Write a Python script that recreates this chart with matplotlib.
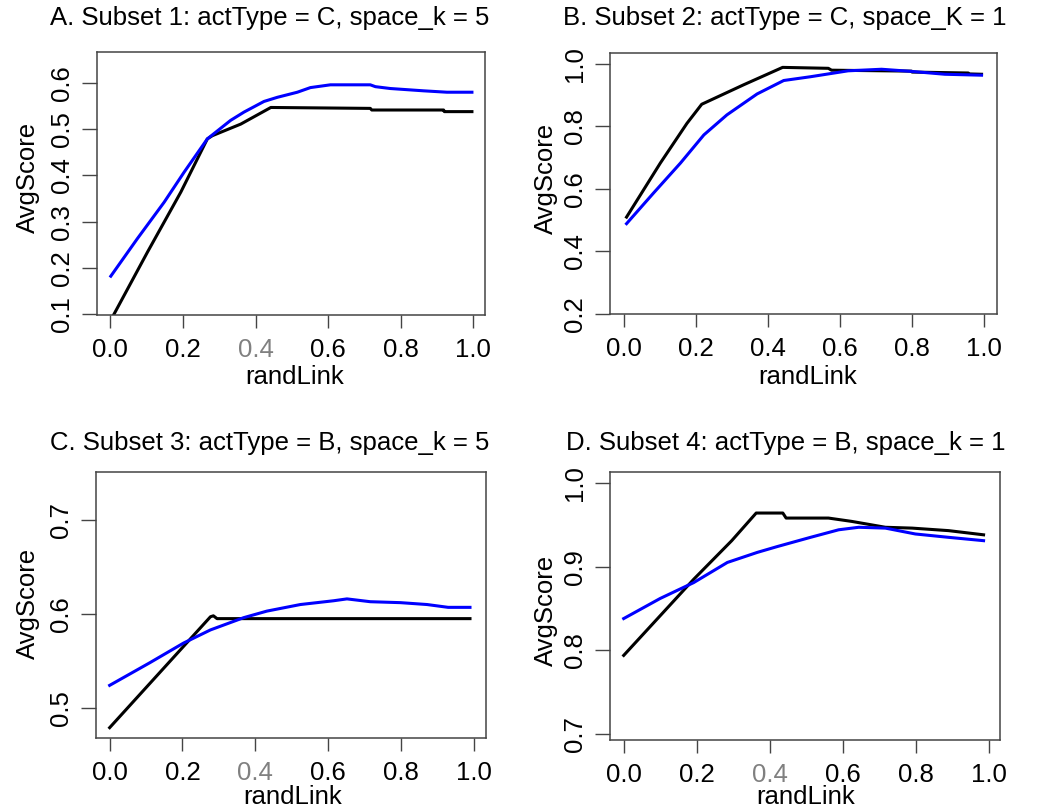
import matplotlib
matplotlib.use("Agg")
import matplotlib.pyplot as plt

plt.rcParams['font.family'] = ['Liberation Sans', 'DejaVu Sans']

W, H = 1038, 808

titles = ["A. Subset 1: actType = C, space_k = 5",
          "B. Subset 2: actType = C, space_K = 1",
          "C. Subset 3: actType = B, space_k = 5",
          "D. Subset 4: actType = B, space_k = 1"]

# panel A
a_black_x = [0.0, 0.01, 0.102, 0.194, 0.267, 0.281, 0.359, 0.442, 0.716, 0.72, 0.918, 0.92, 0.996]
a_black_y = [0.086, 0.100, 0.234, 0.364, 0.479, 0.486, 0.511, 0.547, 0.545, 0.5415, 0.5415, 0.538, 0.538]
a_blue_x = [0.001, 0.074, 0.148, 0.203, 0.267, 0.331, 0.368, 0.423, 0.46, 0.515, 0.551, 0.606,
            0.716, 0.73, 0.771, 0.863, 0.927, 0.996]
a_blue_y = [0.182, 0.263, 0.342, 0.407, 0.479, 0.519, 0.537, 0.560, 0.569, 0.580, 0.590, 0.596,
            0.596, 0.592, 0.588, 0.583, 0.580, 0.580]

# panel B
b_black_x = [0.006, 0.10, 0.174, 0.215, 0.331, 0.44, 0.567, 0.576, 0.798, 0.80, 0.956, 0.96, 0.993]
b_black_y = [0.509, 0.682, 0.809, 0.870, 0.932, 0.988, 0.985, 0.979, 0.976, 0.973, 0.970, 0.967, 0.966]
b_blue_x = [0.006, 0.081, 0.156, 0.221, 0.285, 0.369, 0.443, 0.517, 0.622, 0.715, 0.80, 0.891, 0.993]
b_blue_y = [0.488, 0.586, 0.682, 0.772, 0.836, 0.903, 0.946, 0.958, 0.977, 0.982, 0.975, 0.966, 0.963]

# panel C
c_black_x = [0.0, 0.277, 0.285, 0.295, 0.99]
c_black_y = [0.479, 0.597, 0.598, 0.595, 0.595]
c_blue_x = [0.0, 0.11, 0.203, 0.277, 0.368, 0.432, 0.524, 0.615, 0.652, 0.716, 0.799, 0.872, 0.93, 0.99]
c_blue_y = [0.524, 0.548, 0.569, 0.583, 0.596, 0.603, 0.610, 0.614, 0.616, 0.613, 0.612, 0.610, 0.607, 0.607]

# panel D
d_black_x = [0.0, 0.192, 0.296, 0.363, 0.436, 0.445, 0.561, 0.625, 0.717, 0.79, 0.89, 0.986]
d_black_y = [0.794, 0.885, 0.931, 0.964, 0.964, 0.958, 0.958, 0.954, 0.947, 0.946, 0.943, 0.938]
d_blue_x = [0.0, 0.10, 0.192, 0.284, 0.366, 0.421, 0.512, 0.589, 0.644, 0.717, 0.799, 0.89, 0.986]
d_blue_y = [0.838, 0.862, 0.881, 0.905, 0.917, 0.924, 0.935, 0.944, 0.947, 0.946, 0.939, 0.935, 0.931]

xticks = [0.0, 0.2, 0.4, 0.6, 0.8, 1.0]
yticks = [[0.1, 0.2, 0.3, 0.4, 0.5, 0.6],
          [0.2, 0.4, 0.6, 0.8, 1.0],
          [0.5, 0.6, 0.7],
          [0.7, 0.8, 0.9, 1.0]]
xlims = [(-0.037, 1.032), (-0.040, 1.036), (-0.0375, 1.034), (-0.0375, 1.031)]
ylims = [(0.098, 0.667), (0.199, 1.034), (0.468, 0.751), (0.693, 1.013)]
gray_04 = [True, False, True, True]

series = [(a_black_x, a_black_y, a_blue_x, a_blue_y),
          (b_black_x, b_black_y, b_blue_x, b_blue_y),
          (c_black_x, c_black_y, c_blue_x, c_blue_y),
          (d_black_x, d_black_y, d_blue_x, d_blue_y)]

# layout in pixels: box left, right, top, bottom; title left/y; ylabel pos; xlabel pos
boxes = [(97, 485, 52, 315), (610, 997, 53, 314), (96, 486, 472, 738), (610, 1000, 472, 740)]
title_pos = [(50, 18), (563, 18), (50, 443), (566, 443)]
ylab_pos = [(28, 177), (546, 178), (28, 603), (546, 610)]
xlab_pos = [(295, 377), (808, 377), (293, 797), (806, 797)]

fs = 18.5
fig = plt.figure(figsize=(W / 100, H / 100), dpi=100)

for i in range(4):
    l, r, t, b = boxes[i]
    ax = fig.add_axes([l / W, 1 - b / H, (r - l) / W, (b - t) / H])
    bx, by, ux, uy = series[i]
    ax.plot(bx, by, color='black', lw=2.2)
    ax.plot(ux, uy, color='#0000ff', lw=2.2)
    ax.set_xlim(*xlims[i])
    ax.set_ylim(*ylims[i])
    ax.set_xticks(xticks)
    ax.set_xticklabels([f"{v:.1f}" for v in xticks])
    ax.set_yticks(yticks[i])
    ax.set_yticklabels([f"{v:.1f}" for v in yticks[i]], rotation=90, va='center')
    for s in ax.spines.values():
        s.set_color('#444444')
        s.set_linewidth(1.1)
    ax.tick_params(axis='x', length=9.5, width=1.0, pad=7, color='#444444', labelsize=fs)
    ax.tick_params(axis='y', length=10.5, width=1.0, pad=6, color='#444444', labelsize=fs)
    if gray_04[i]:
        ax.get_xticklabels()[2].set_color('#808080')

    ax.set_xlabel('randLink', fontsize=fs, va='center')
    ax.set_ylabel('AvgScore', fontsize=fs, va='center')
    px, py = xlab_pos[i]
    ax.xaxis.set_label_coords((px - l) / (r - l), (b - py) / (b - t))
    px, py = ylab_pos[i]
    ax.yaxis.set_label_coords((px - l) / (r - l), (b - py) / (b - t))

    tx, ty = title_pos[i]
    fig.text(tx / W, 1 - ty / H, titles[i], fontsize=fs, ha='left', va='center')

fig.savefig('out.png', dpi=100)
